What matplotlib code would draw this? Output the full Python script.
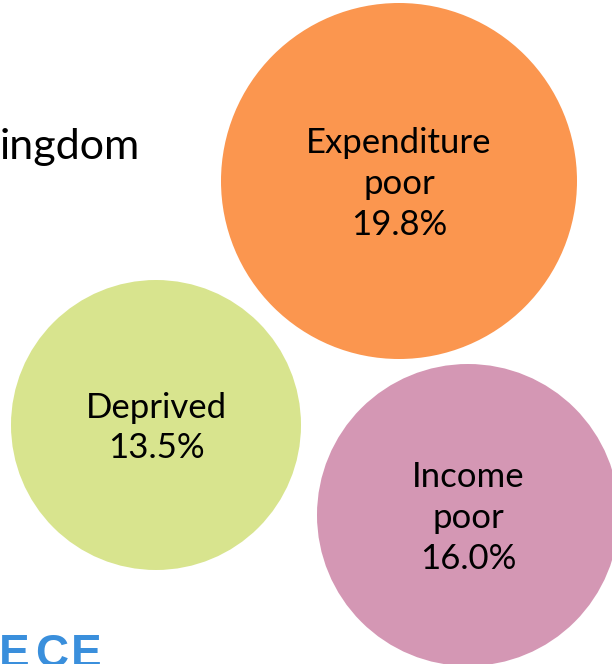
import matplotlib
matplotlib.use("Agg")

import matplotlib.pyplot as plt
from matplotlib.patches import Circle

# Bubble data
labels = ["Expenditure\npoor", "Deprived", "Income\npoor"]
values = [19.8, 13.5, 16.0]
colors = ["#FB964F", "#D8E48E", "#D497B4"]

# Layout (pixel coordinates on a 612x664 canvas)
centers = [(399, 181), (156, 425), (468, 515)]
radii = [178, 145, 151]

fig = plt.figure(figsize=(6.12, 6.64), dpi=100)
ax = fig.add_axes([0, 0, 1, 1])
ax.set_xlim(0, 612)
ax.set_ylim(664, 0)
ax.set_aspect("equal")
ax.axis("off")

font = ["Lato", "DejaVu Sans"]

for lab, val, col, (cx, cy), r in zip(labels, values, colors, centers, radii):
    ax.add_patch(Circle((cx, cy), r, facecolor=col, edgecolor="none"))
    ax.text(cx, cy + 3, f"{lab}\n{val:.1f}%", ha="center", va="center",
            fontsize=25, family=font, linespacing=1.33)

# Fragments of slide text cut off by the crop
ax.text(0, 147, "ingdom", ha="left", va="center", fontsize=31, family=font)
# "ECE" drawn letter by letter for the wide tracking of the slide logo
for i, ch in enumerate("ECE"):
    ax.text(-1 + i * 36, 667, ch, ha="left", va="baseline", fontsize=33,
            fontweight="bold", color="#3A8FDC",
            family=["Liberation Sans", "DejaVu Sans"])

plt.savefig("out.png", dpi=100)
plt.close()
